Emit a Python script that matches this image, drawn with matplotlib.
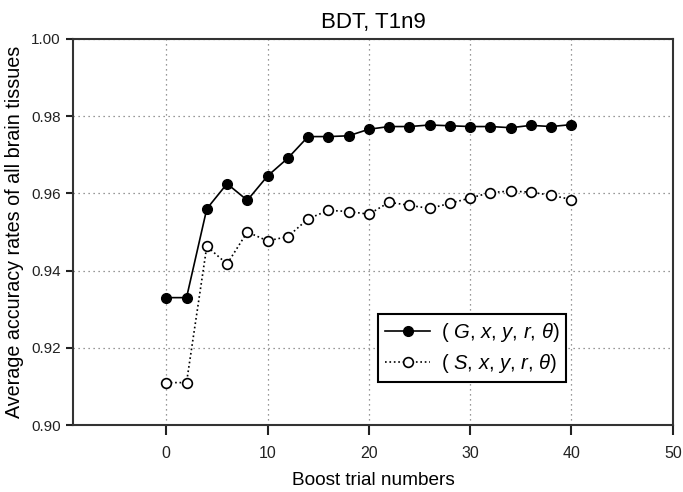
import numpy as np
import matplotlib
matplotlib.use('Agg')
import matplotlib.pyplot as plt

plt.rcParams['font.family'] = ['Liberation Sans', 'DejaVu Sans']
plt.rcParams['mathtext.fontset'] = 'custom'
plt.rcParams['mathtext.rm'] = 'Liberation Sans'
plt.rcParams['mathtext.it'] = 'Liberation Sans:italic'

# Boost trial numbers
trials = [0, 2, 4, 6, 8, 10, 12, 14, 16, 18, 20, 22, 24, 26, 28, 30, 32, 34, 36, 38, 40]

# Accuracy for (G, x, y, r, theta)
acc_g = [0.933, 0.933, 0.956, 0.9625, 0.9582, 0.9645, 0.9691, 0.9747, 0.9747, 0.9749, 0.9766,
         0.9773, 0.9773, 0.9777, 0.9775, 0.9773, 0.9773, 0.9770, 0.9776, 0.9773, 0.9778]

# Accuracy for (S, x, y, r, theta)
acc_s = [0.911, 0.911, 0.9463, 0.9417, 0.9500, 0.9477, 0.9488, 0.9534, 0.9556, 0.9553, 0.9546,
         0.9577, 0.9569, 0.9561, 0.9574, 0.9588, 0.9602, 0.9606, 0.9603, 0.9595, 0.9584]

x_ticks = [0, 10, 20, 30, 40, 50]
y_ticks = [0.90, 0.92, 0.94, 0.96, 0.98, 1.00]

fig = plt.figure(figsize=(6.83, 4.92), dpi=100)
ax = fig.add_axes([0.107, 0.136, 0.878, 0.785])

ax.plot(trials, acc_g, '-', color='black', lw=1.2, marker='o', ms=7,
        mfc='black', mec='black', label=r'( $G$, $x$, $y$, $r$, $\theta$)', zorder=3)
ax.plot(trials, acc_s, ':', color='black', lw=1.2, marker='o', ms=7,
        mfc='white', mec='black', mew=1.2, label=r'( $S$, $x$, $y$, $r$, $\theta$)', zorder=3)

ax.set_xlim(-9.2, 50)
ax.set_ylim(0.90, 1.00)
ax.set_xticks(x_ticks)
ax.set_yticks(y_ticks)
ax.set_yticklabels([f'{v:.2f}' for v in y_ticks])
ax.tick_params(axis='x', direction='out', length=7, width=1.5, pad=8, labelsize=11.5, colors='#222222')
ax.tick_params(axis='y', direction='out', length=5, width=1.5, pad=4, labelsize=11, colors='#222222')
ax.grid(True, linestyle=(0, (1, 3)), color='#777777', linewidth=0.9)

for s in ax.spines.values():
    s.set_linewidth(1.5)
    s.set_color('#333333')

ax.set_title('BDT, T1n9', fontsize=16, pad=8)
ax.set_xlabel('Boost trial numbers', fontsize=13.7, labelpad=8)
ax.set_ylabel('Average accuracy rates of all brain tissues', fontsize=14.2, labelpad=5)

leg = ax.legend(loc='upper left', bbox_to_anchor=(0.508, 0.2876), fontsize=14.6,
                fancybox=False, framealpha=1, edgecolor='black', borderaxespad=0,
                handlelength=2.25, handletextpad=0.5, borderpad=0.35, labelspacing=0.4)
leg.get_frame().set_linewidth(1.5)

plt.savefig('out.png', dpi=100)
